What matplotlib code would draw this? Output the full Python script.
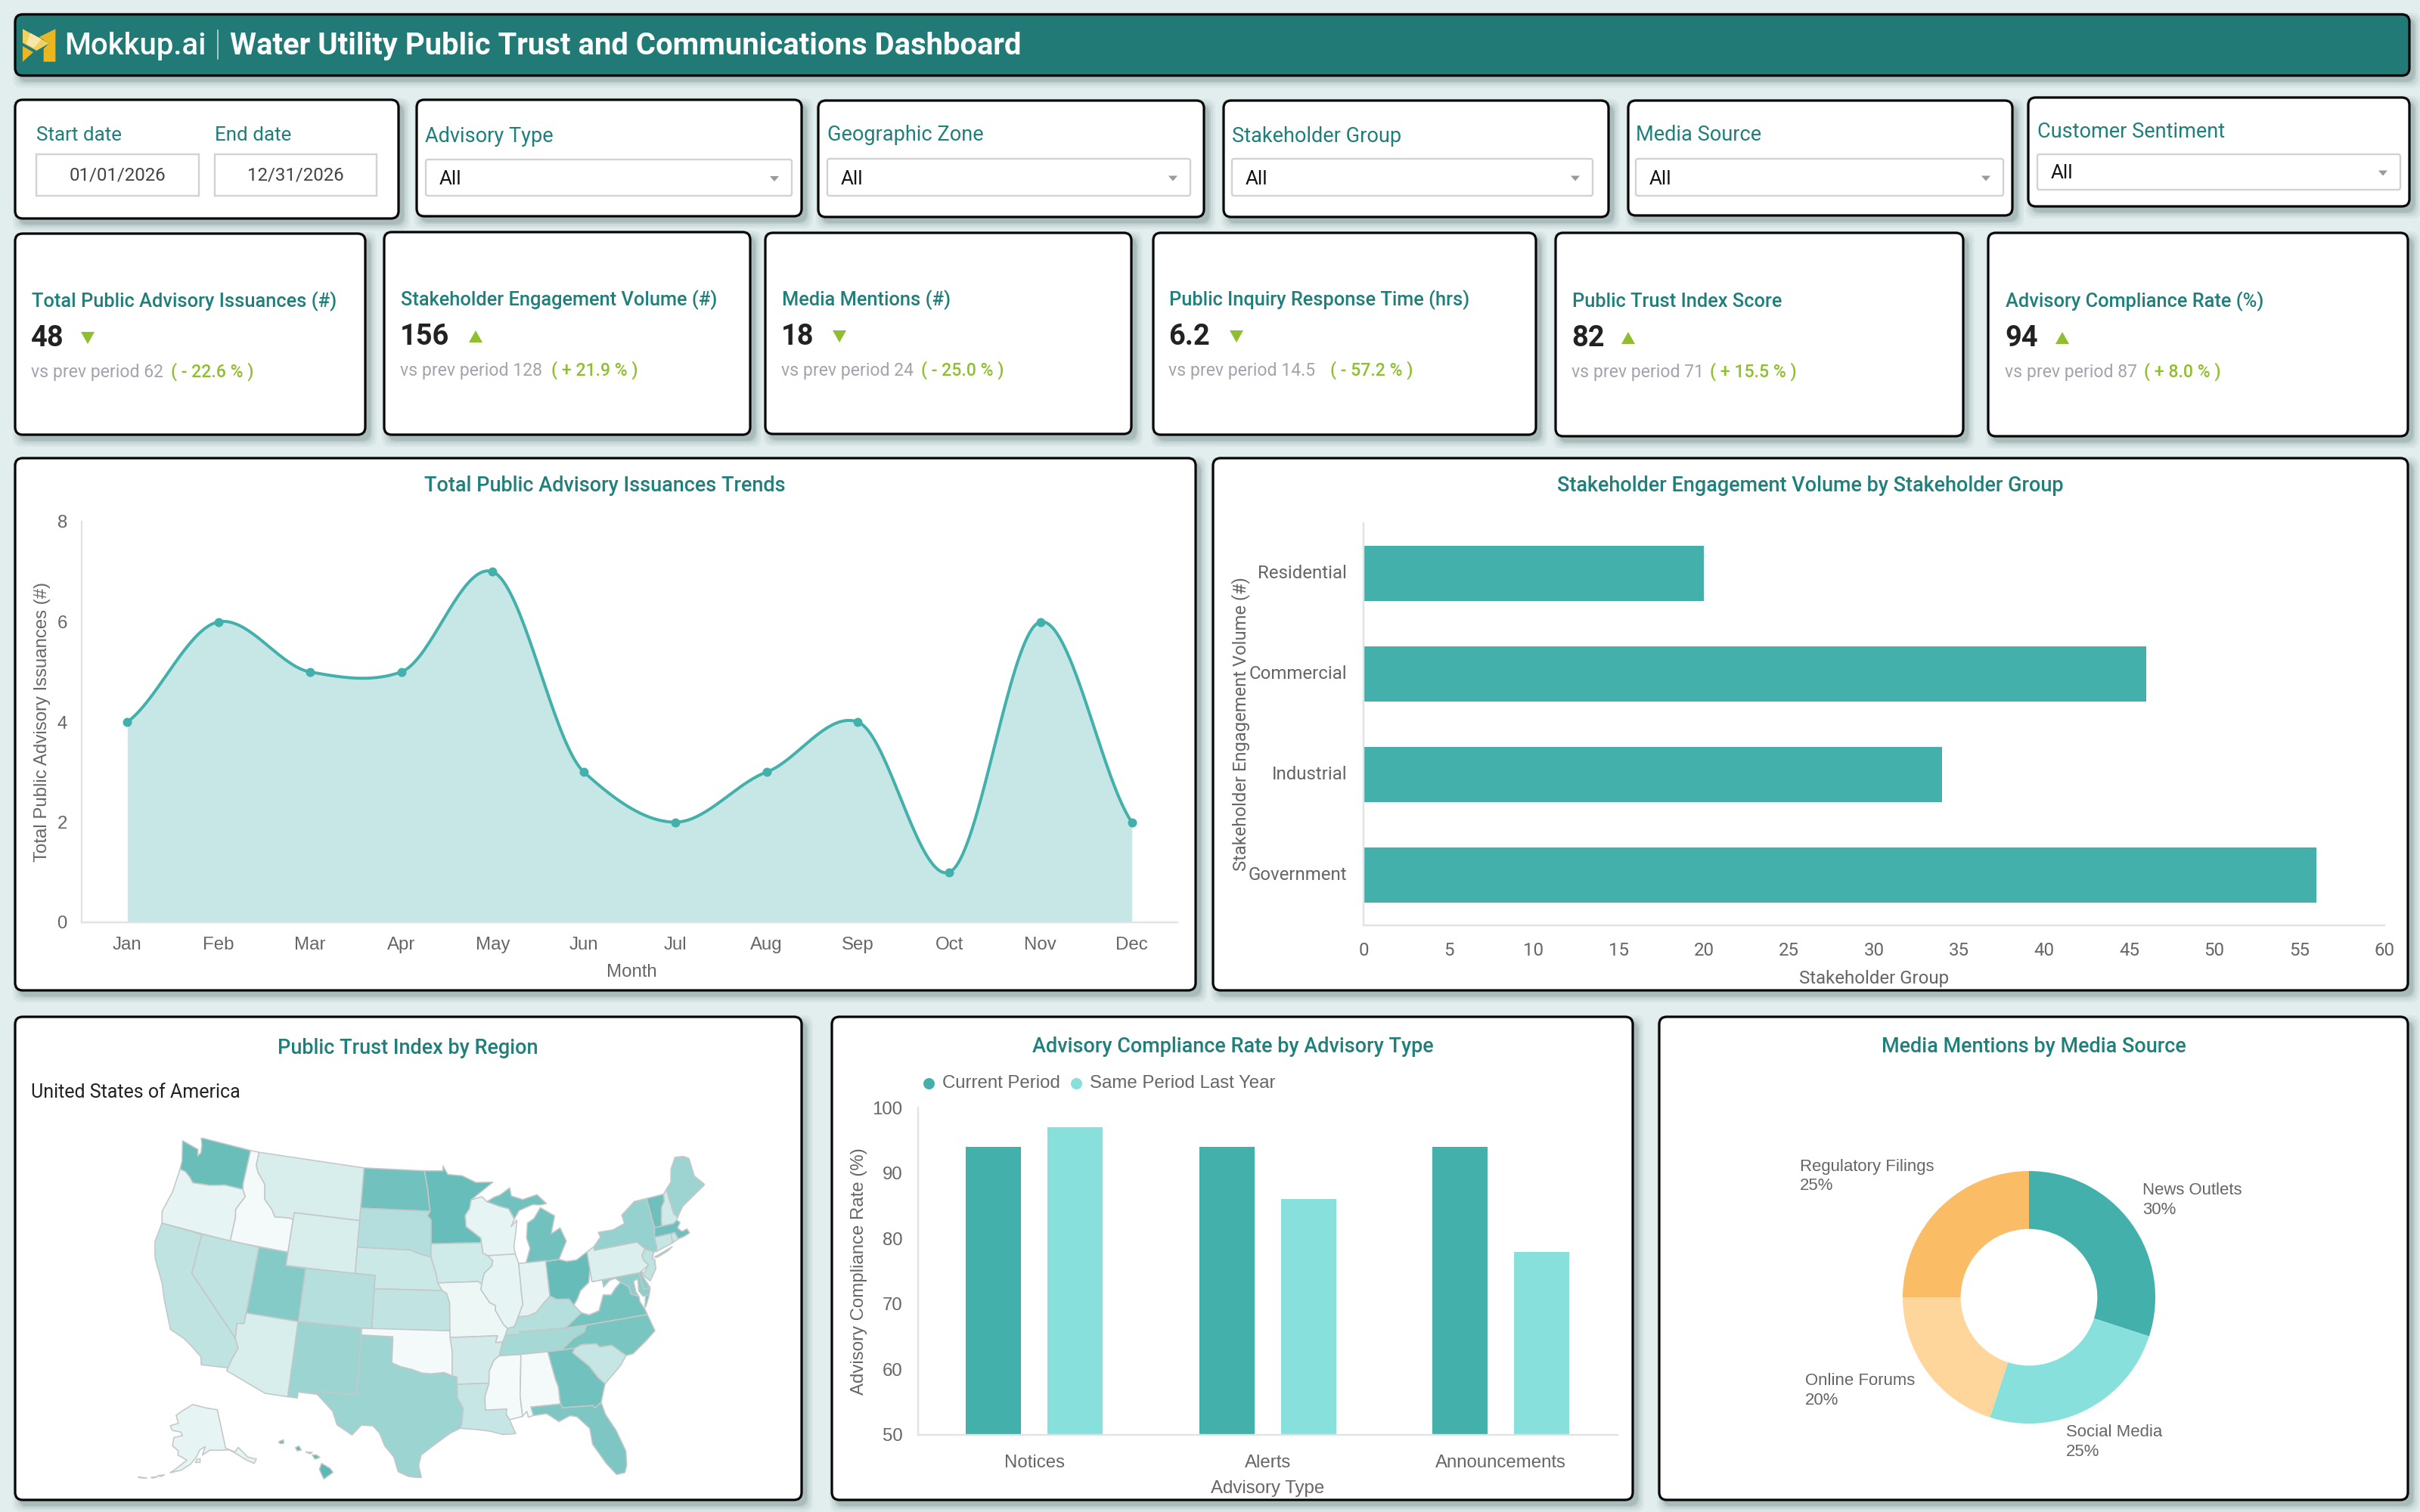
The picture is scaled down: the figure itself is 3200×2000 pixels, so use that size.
import numpy as np
import matplotlib
matplotlib.use("Agg")
import matplotlib.pyplot as plt
from matplotlib.colors import LinearSegmentedColormap
from matplotlib.patches import FancyBboxPatch, Polygon, Rectangle

W, H = 3200, 2000
TEAL = "#44B0AB"
AQUA = "#88E0DC"
TITLE = "#1F7F7B"
HEADER = "#227A77"
GREY = "#666666"
GREEN = "#8FBF2F"

# Dashboard values
months = ["Jan", "Feb", "Mar", "Apr", "May", "Jun", "Jul", "Aug", "Sep", "Oct", "Nov", "Dec"]
issuances = [4, 6, 5, 5, 7, 3, 2, 3, 4, 1, 6, 2]

stakeholders = ["Residential", "Commercial", "Industrial", "Government"]
engagement = [20, 46, 34, 56]

advisory_types = ["Notices", "Alerts", "Announcements"]
compliance_current = [94, 94, 94]
compliance_last_year = [97, 86, 78]

media_sources = ["News Outlets", "Social Media", "Online Forums", "Regulatory Filings"]
media_share = [30, 25, 20, 25]
media_colors = [TEAL, AQUA, "#FED69C", "#FABD66"]

kpi_titles = ["Total Public Advisory Issuances (#)", "Stakeholder Engagement Volume (#)", "Media Mentions (#)",
              "Public Inquiry Response Time (hrs)", "Public Trust Index Score", "Advisory Compliance Rate (%)"]
kpi_values = ["48", "156", "18", "6.2", "82", "94"]
kpi_prev = ["62", "128", "24", "14.5", "71", "87"]
kpi_delta = ["( - 22.6 % )", "( + 21.9 % )", "( - 25.0 % )", "( - 57.2 % )", "( + 15.5 % )", "( + 8.0 % )"]
kpi_up = [False, True, False, False, True, True]

filter_labels = ["Advisory Type", "Geographic Zone", "Stakeholder Group", "Media Source", "Customer Sentiment"]

# Trust index per state, 0 to 1
trust_index = {
    "WA": .92, "OR": .15, "ID": .07, "MT": .24, "WY": .24, "ND": .87, "SD": .46, "NE": .33, "KS": .38, "MN": .93,
    "IA": .30, "MO": .12, "WI": .15, "IL": .15, "IN": .17, "MI": .87, "OH": .94, "KY": .45, "TN": .55, "AL": .07,
    "MS": .07, "AR": .28, "LA": .35, "OK": .07, "TX": .61, "NM": .61, "AZ": .24, "CO": .45, "UT": .75, "NV": .40,
    "CA": .40, "GA": .87, "FL": .80, "SC": .35, "NC": .82, "VA": .85, "WV": .00, "PA": .22, "NY": .65, "ME": .60,
    "VT": .88, "NH": .30, "MA": .88, "CT": .35, "RI": .35, "NJ": .40, "DE": .70, "MD": .70, "AK": .15, "HI": 1.0,
}

# Simplified state outlines, (lon, lat)
states = {
    "WA": [[(-124.7, 48.38), (-123.2, 48.15), (-122.8, 48.1), (-122.6, 47.6), (-122.35, 47.9), (-122.5, 48.5), (-122.8, 49), (-117.03, 49), (-117.03, 46.42), (-116.92, 46), (-118.98, 46), (-119.3, 45.93), (-120.5, 45.7), (-121.2, 45.65), (-122.3, 45.55), (-122.8, 45.9), (-123.4, 46.2), (-124.05, 46.27), (-124.1, 46.9)]],
    "OR": [[(-124.05, 46.27), (-123.4, 46.2), (-122.8, 45.9), (-122.3, 45.55), (-121.2, 45.65), (-120.5, 45.7), (-119.3, 45.93), (-118.98, 46), (-116.92, 46), (-116.5, 45.5), (-116.9, 44.9), (-117.2, 44.4), (-117.03, 43.8), (-117.03, 42), (-124.2, 42), (-124.55, 42.85), (-124.1, 44.5)]],
    "ID": [[(-117.03, 49), (-116.05, 49), (-116.05, 48), (-115.7, 47.5), (-114.7, 46.7), (-114.4, 45.6), (-113.45, 44.95), (-113, 44.45), (-111.5, 44.55), (-111.05, 44.48), (-111.05, 42), (-117.03, 42), (-117.03, 43.8), (-117.2, 44.4), (-116.9, 44.9), (-116.5, 45.5), (-116.92, 46), (-117.03, 46.42)]],
    "MT": [[(-116.05, 49), (-104.05, 49), (-104.05, 45), (-111.05, 45), (-111.05, 44.48), (-111.5, 44.55), (-113, 44.45), (-113.45, 44.95), (-114.4, 45.6), (-114.7, 46.7), (-115.7, 47.5), (-116.05, 48)]],
    "WY": [[(-111.05, 45), (-104.05, 45), (-104.05, 41), (-111.05, 41)]],
    "ND": [[(-104.05, 49), (-97.23, 49), (-96.85, 47.6), (-96.56, 45.94), (-104.05, 45.94)]],
    "SD": [[(-104.05, 45.94), (-96.56, 45.94), (-96.85, 45.6), (-96.45, 45.3), (-96.45, 43.5), (-96.45, 42.49), (-97.9, 42.8), (-98.5, 43), (-104.05, 43)]],
    "NE": [[(-104.05, 43), (-98.5, 43), (-97.9, 42.8), (-96.45, 42.49), (-96.1, 41.7), (-95.85, 41), (-95.31, 40), (-102.05, 40), (-102.05, 41), (-104.05, 41)]],
    "KS": [[(-102.05, 40), (-95.31, 40), (-94.9, 39.8), (-94.61, 39.1), (-94.62, 37), (-102.05, 37)]],
    "CO": [[(-109.05, 41), (-102.05, 41), (-102.05, 37), (-109.05, 37)]],
    "UT": [[(-114.05, 42), (-111.05, 42), (-111.05, 41), (-109.05, 41), (-109.05, 37), (-114.05, 37)]],
    "NV": [[(-120, 42), (-114.05, 42), (-114.05, 36.2), (-114.7, 36.1), (-114.6, 35), (-120, 39)]],
    "CA": [[(-124.2, 42), (-120, 42), (-120, 39), (-114.6, 35), (-114.15, 34.3), (-114.5, 33.5), (-114.72, 32.72), (-117.12, 32.53), (-117.3, 33.1), (-118.4, 33.75), (-119.2, 34.15), (-120.6, 34.55), (-121.9, 36.6), (-122.5, 37.7), (-123.8, 39.3), (-124.35, 40.4)]],
    "AZ": [[(-114.05, 37), (-109.05, 37), (-109.05, 31.33), (-111.07, 31.33), (-114.81, 32.5), (-114.72, 32.72), (-114.5, 33.5), (-114.15, 34.3), (-114.6, 35), (-114.7, 36.1), (-114.05, 36.2)]],
    "NM": [[(-109.05, 37), (-103, 37), (-103, 32), (-106.6, 32), (-106.5, 31.78), (-108.2, 31.78), (-108.2, 31.33), (-109.05, 31.33)]],
    "TX": [[(-103, 36.5), (-100, 36.5), (-100, 34.56), (-99.2, 34.3), (-98.1, 34.1), (-97.2, 33.85), (-96.4, 33.8), (-95.2, 33.9), (-94.48, 33.64), (-94.04, 33.55), (-94.04, 31.99), (-93.55, 31.2), (-93.7, 30.1), (-93.85, 29.7), (-94.7, 29.35), (-95.9, 28.6), (-97.2, 27.7), (-97.4, 26.9), (-97.15, 25.96), (-98.2, 26.05), (-99.1, 26.4), (-99.5, 27.5), (-100.3, 28.3), (-100.8, 29.25), (-101.4, 29.77), (-102.4, 29.77), (-103.15, 28.98), (-104.5, 29.65), (-105, 30.65), (-106.5, 31.78), (-106.6, 32), (-103, 32)]],
    "OK": [[(-103, 37), (-94.62, 37), (-94.43, 35.4), (-94.48, 33.64), (-95.2, 33.9), (-96.4, 33.8), (-97.2, 33.85), (-98.1, 34.1), (-99.2, 34.3), (-100, 34.56), (-100, 36.5), (-103, 36.5)]],
    "MN": [[(-97.23, 49), (-95.15, 49), (-95.15, 49.38), (-94.6, 48.72), (-93, 48.6), (-91.5, 48.05), (-89.6, 48), (-92.1, 46.75), (-92.3, 46.1), (-92.8, 45.6), (-92.75, 44.75), (-91.25, 43.85), (-91.22, 43.5), (-96.45, 43.5), (-96.45, 45.3), (-96.85, 45.6), (-96.56, 45.94), (-96.85, 47.6)]],
    "IA": [[(-96.45, 43.5), (-91.22, 43.5), (-91.1, 42.7), (-90.64, 42.51), (-90.15, 42.1), (-90.3, 41.7), (-91.1, 41.2), (-91.4, 40.38), (-91.73, 40.61), (-95.77, 40.58), (-95.85, 41), (-96.1, 41.7), (-96.45, 42.49)]],
    "MO": [[(-95.77, 40.58), (-91.73, 40.61), (-91.4, 40.38), (-91.5, 40), (-90.7, 39), (-90.15, 38.75), (-90.2, 38.4), (-89.5, 37.3), (-89.15, 37), (-89.4, 36.5), (-89.7, 36), (-90.37, 36), (-90.15, 36.5), (-94.62, 36.5), (-94.62, 37), (-94.61, 39.1), (-94.9, 39.8), (-95.31, 40)]],
    "AR": [[(-94.62, 36.5), (-90.15, 36.5), (-90.37, 36), (-89.7, 36), (-90.1, 35), (-90.6, 34.7), (-91.1, 33.9), (-91.17, 33), (-94.04, 33), (-94.04, 33.55), (-94.48, 33.64), (-94.43, 35.4)]],
    "LA": [[(-94.04, 33), (-91.17, 33), (-91.6, 31.99), (-91.6, 31), (-89.73, 31), (-89.8, 30.6), (-89.55, 30.18), (-89.4, 29.8), (-89.1, 29.1), (-90.2, 29.1), (-91.3, 29.4), (-92.3, 29.55), (-93.85, 29.7), (-93.7, 30.1), (-93.55, 31.2), (-94.04, 31.99)]],
    "MS": [[(-90.1, 35), (-88.2, 35), (-88.1, 34.9), (-88.47, 31.9), (-88.4, 30.35), (-89.55, 30.18), (-89.8, 30.6), (-89.73, 31), (-91.6, 31), (-91.6, 31.99), (-91.17, 33), (-91.1, 33.9), (-90.6, 34.7)]],
    "AL": [[(-88.2, 35), (-85.6, 35), (-85.18, 32.87), (-85, 32.3), (-85, 31), (-87.6, 31), (-87.45, 30.35), (-87.9, 30.25), (-88, 30.7), (-88.4, 30.35), (-88.47, 31.9), (-88.1, 34.9)]],
    "TN": [[(-90.1, 35), (-89.7, 36), (-89.4, 36.5), (-88.05, 36.5), (-88.05, 36.68), (-83.68, 36.6), (-81.68, 36.59), (-82, 36.1), (-83.1, 35.75), (-84.3, 35), (-85.6, 35), (-88.2, 35)]],
    "KY": [[(-89.4, 36.5), (-89.15, 37), (-88.5, 37.1), (-88.05, 37.8), (-87.1, 37.8), (-86.3, 38), (-85.4, 38.7), (-84.8, 39.1), (-84.2, 38.8), (-83, 38.7), (-82.6, 38.2), (-82, 37.55), (-83.68, 36.6), (-88.05, 36.68), (-88.05, 36.5)]],
    "IL": [[(-91.5, 40), (-91.4, 40.38), (-91.1, 41.2), (-90.3, 41.7), (-90.15, 42.1), (-90.64, 42.51), (-87.8, 42.49), (-87.55, 41.75), (-87.53, 39.35), (-87.5, 38.7), (-88.05, 37.8), (-88.5, 37.1), (-89.15, 37), (-89.5, 37.3), (-90.2, 38.4), (-90.15, 38.75), (-90.7, 39)]],
    "IN": [[(-87.55, 41.75), (-87.2, 41.75), (-86.8, 41.76), (-84.8, 41.76), (-84.8, 39.1), (-85.4, 38.7), (-86.3, 38), (-87.1, 37.8), (-88.05, 37.8), (-87.5, 38.7), (-87.53, 39.35)]],
    "OH": [[(-84.8, 41.7), (-83.45, 41.73), (-82.7, 41.5), (-81.7, 41.5), (-80.52, 41.98), (-80.52, 40.64), (-80.85, 39.7), (-81.75, 39.2), (-82.2, 38.6), (-82.6, 38.2), (-83, 38.7), (-84.2, 38.8), (-84.8, 39.1)]],
    "WV": [[(-82.6, 38.2), (-82.2, 38.6), (-81.75, 39.2), (-80.85, 39.7), (-80.52, 40.64), (-80.52, 39.72), (-79.48, 39.72), (-79.48, 39.2), (-78.8, 39.6), (-78.2, 39.68), (-77.75, 39.3), (-78.35, 38.95), (-78.9, 38.5), (-79.65, 38.6), (-80.3, 37.5), (-81.3, 37.3), (-82, 37.55)]],
    "VA": [[(-83.68, 36.6), (-81.68, 36.59), (-75.87, 36.55), (-76, 37), (-76.3, 37.6), (-76.3, 38), (-77, 38.3), (-77.05, 38.85), (-77.75, 39.3), (-78.35, 38.95), (-78.9, 38.5), (-79.65, 38.6), (-80.3, 37.5), (-81.3, 37.3), (-82, 37.55)],
           [(-75.95, 37.15), (-75.65, 37.95), (-75.3, 37.95), (-75.85, 37.15)]],
    "MD": [[(-79.48, 39.72), (-75.79, 39.72), (-75.7, 38.46), (-75.05, 38.45), (-75.3, 37.95), (-75.9, 37.95), (-76.2, 38.4), (-76.05, 39.3), (-76.5, 39.2), (-76.5, 38.4), (-76.3, 38), (-77, 38.3), (-77.05, 38.85), (-77.75, 39.3), (-78.2, 39.68), (-78.8, 39.6), (-79.48, 39.2)]],
    "DE": [[(-75.79, 39.72), (-75.45, 39.82), (-75.55, 39.45), (-75.05, 38.45), (-75.7, 38.46)]],
    "PA": [[(-80.52, 41.98), (-79.76, 42.27), (-79.76, 42), (-75.35, 42), (-74.7, 41.36), (-75.15, 40.95), (-75.1, 40.55), (-74.72, 40.15), (-75.45, 39.82), (-75.79, 39.72), (-80.52, 39.72)]],
    "NJ": [[(-74.7, 41.36), (-73.9, 41), (-74.25, 40.5), (-74, 40.45), (-74.1, 39.75), (-74.9, 38.95), (-75.5, 39.5), (-74.72, 40.15), (-75.1, 40.55), (-75.15, 40.95)]],
    "NY": [[(-79.76, 42.27), (-79.76, 42), (-75.35, 42), (-74.7, 41.36), (-73.9, 41), (-73.65, 40.98), (-73.5, 41.3), (-73.5, 42.05), (-73.27, 42.75), (-73.35, 45.01), (-74.7, 45), (-76.3, 44.2), (-76.2, 43.55), (-77.5, 43.25), (-79.05, 43.27), (-78.9, 42.9)],
           [(-74, 40.6), (-72, 41.05), (-72.6, 40.8), (-73.7, 40.55)]],
    "CT": [[(-73.5, 42.05), (-71.8, 42.02), (-71.85, 41.32), (-73.65, 40.98), (-73.5, 41.3)]],
    "RI": [[(-71.8, 42.02), (-71.38, 42.02), (-71.2, 41.5), (-71.85, 41.32)]],
    "MA": [[(-73.5, 42.05), (-73.27, 42.75), (-72.46, 42.73), (-71.3, 42.7), (-70.85, 42.88), (-70.6, 42.65), (-71, 42.3), (-70.65, 41.95), (-70.1, 42.05), (-69.95, 41.7), (-70.65, 41.55), (-71.2, 41.5), (-71.38, 42.02), (-71.8, 42.02)]],
    "VT": [[(-73.35, 45.01), (-71.5, 45.01), (-71.6, 44.5), (-72.05, 44.1), (-72.45, 43), (-72.46, 42.73), (-73.27, 42.75)]],
    "NH": [[(-71.5, 45.01), (-71.08, 45.3), (-70.98, 43.4), (-70.7, 43.07), (-70.85, 42.88), (-71.3, 42.7), (-72.46, 42.73), (-72.45, 43), (-72.05, 44.1), (-71.6, 44.5)]],
    "ME": [[(-71.08, 45.3), (-70.4, 45.75), (-70, 46.7), (-69.23, 47.46), (-68.3, 47.35), (-67.8, 47.07), (-67.8, 45.7), (-67, 44.85), (-68.5, 44.3), (-69.9, 43.75), (-70.7, 43.07), (-70.98, 43.4)]],
    "MI": [[(-86.8, 41.76), (-84.8, 41.76), (-84.8, 41.7), (-83.45, 41.73), (-83.1, 42.2), (-82.45, 43), (-82.9, 44.05), (-83.9, 43.7), (-83.3, 45), (-84.7, 45.75), (-85.5, 45), (-86.25, 44.7), (-86.5, 43.6), (-86.25, 42.8)],
           [(-90.4, 46.55), (-89.1, 46.15), (-88.1, 45.9), (-87.6, 45.1), (-87, 45.7), (-85.5, 46.05), (-84.7, 45.95), (-84, 46), (-84.9, 46.75), (-86.5, 46.5), (-87.7, 46.85), (-87.8, 47.47), (-88.9, 47), (-89.6, 46.85)]],
    "WI": [[(-92.1, 46.75), (-90.9, 46.95), (-90.4, 46.55), (-89.1, 46.15), (-88.1, 45.9), (-87.6, 45.1), (-88, 44.55), (-87.35, 45), (-87.5, 44.3), (-87.9, 43), (-87.8, 42.49), (-90.64, 42.51), (-91.1, 42.7), (-91.22, 43.5), (-91.25, 43.85), (-92.75, 44.75), (-92.8, 45.6), (-92.3, 46.1)]],
    "NC": [[(-84.3, 35), (-83.1, 35.75), (-82, 36.1), (-81.68, 36.59), (-75.87, 36.55), (-75.5, 35.25), (-76.5, 34.65), (-77.9, 33.9), (-78.55, 33.86), (-79.68, 34.8), (-80.8, 34.82), (-81.05, 35.1), (-82.4, 35.2), (-83.1, 35)]],
    "SC": [[(-83.1, 35), (-82.4, 35.2), (-81.05, 35.1), (-80.8, 34.82), (-79.68, 34.8), (-78.55, 33.86), (-79.2, 33.2), (-80.85, 32.05), (-81.4, 32.6), (-82, 33.5), (-83.35, 34.7)]],
    "GA": [[(-85.6, 35), (-84.3, 35), (-83.1, 35), (-83.35, 34.7), (-82, 33.5), (-81.4, 32.6), (-80.85, 32.05), (-81.45, 30.72), (-82.05, 30.36), (-82.2, 30.57), (-84.85, 30.7), (-85, 31), (-85, 32.3), (-85.18, 32.87)]],
    "FL": [[(-87.6, 31), (-85, 31), (-84.85, 30.7), (-82.2, 30.57), (-82.05, 30.36), (-81.45, 30.72), (-81.25, 29.8), (-80.55, 28.45), (-80.03, 26.8), (-80.15, 25.75), (-80.4, 25.2), (-81.1, 25.15), (-81.8, 26.1), (-82.7, 27.7), (-82.75, 28.9), (-83.7, 29.9), (-84.3, 30.05), (-85.3, 29.7), (-86.3, 30.4), (-87.45, 30.35)]],
}
alaska = [[(-141, 69.6), (-141, 60.3), (-137.5, 58.9), (-135.5, 59.8), (-133, 57), (-130, 55.9), (-131.5, 55.1), (-134, 56.5), (-136.5, 58.1), (-139.5, 59.7), (-144, 60), (-148, 60.3), (-151.5, 59.2), (-150, 61.2), (-152.5, 60.5), (-154, 58.8), (-156.5, 57), (-160, 55.5), (-164, 54.6), (-161.5, 56), (-158, 58), (-162, 59), (-162, 60), (-165, 61), (-165, 63), (-161, 63.7), (-162, 64.5), (-166.5, 64.6), (-168, 65.6), (-164, 66.5), (-166, 68.3), (-163, 69.5), (-156.5, 71.3), (-148, 70.4)],
          [(-154.5, 57.5), (-152.5, 57.5), (-152.5, 58.4), (-153.8, 58.2)],
          [(-167, 53.4), (-166, 53.9), (-168.5, 53.4)], [(-170.5, 52.7), (-168.5, 53.1), (-170, 52.6)], [(-175, 52), (-172, 52.3), (-174.5, 51.9)]]
hawaii = [[(-159.8, 22.05), (-159.35, 22.2), (-159.35, 21.9), (-159.7, 21.9)], [(-158.25, 21.55), (-157.95, 21.7), (-157.7, 21.35), (-158.1, 21.3)],
          [(-157.3, 21.2), (-156.7, 21.17), (-156.9, 21.05)], [(-156.7, 20.95), (-156.3, 20.95), (-156, 20.75), (-156.45, 20.6)],
          [(-156.05, 19.75), (-155.85, 20.25), (-155.1, 19.85), (-154.8, 19.5), (-155.65, 18.95)]]


def albers(lon, lat, lon0=-96, lat0=37.5, lat1=29.5, lat2=45.5):
    lon, lat, lat0, lat1, lat2 = np.radians(lon), np.radians(lat), np.radians(lat0), np.radians(lat1), np.radians(lat2)
    n = (np.sin(lat1) + np.sin(lat2)) / 2
    c = np.cos(lat1) ** 2 + 2 * n * np.sin(lat1)
    rho = np.sqrt(c - 2 * n * np.sin(lat)) / n
    rho0 = np.sqrt(c - 2 * n * np.sin(lat0)) / n
    theta = n * (lon - np.radians(lon0))
    return rho * np.sin(theta), rho0 - rho * np.cos(theta)


def px_axes(x0, y0, x1, y1):
    return fig.add_axes([x0 / W, 1 - y1 / H, (x1 - x0) / W, (y1 - y0) / H])


def pts(px):
    return px * 72 / 200


def put(x, y, text, size, color="#333333", weight="normal", ha="left", va="center", family="Roboto", rotation=0):
    if rotation == 0:
        y += 3 if family == "Roboto" else 1
    page.text(x, y, text, fontsize=pts(size), color=color, fontweight=weight, ha=ha, va=va, family=family, rotation=rotation, rotation_mode="anchor", zorder=5)


def card(x0, y0, x1, y1, face="white"):
    # soft shadow, then the panel with its dark border
    for grow, alpha in [(9, .05), (6, .07), (3, .10), (1, .12)]:
        page.add_patch(FancyBboxPatch((x0 + 6 - grow, y0 + 7 - grow), x1 - x0 + 2 * grow, y1 - y0 + 2 * grow,
                                      boxstyle="round,pad=0,rounding_size=12", fc="#2F4A4A", ec="none", alpha=alpha, zorder=1))
    page.add_patch(FancyBboxPatch((x0, y0), x1 - x0, y1 - y0, boxstyle="round,pad=0,rounding_size=10",
                                  fc=face, ec="#050505", lw=pts(3.2), zorder=2))


def select_box(x0, y0, x1, y1, value="All"):
    page.add_patch(FancyBboxPatch((x0, y0), x1 - x0, y1 - y0, boxstyle="round,pad=0,rounding_size=3", fc="white", ec="#D2D2D2", lw=pts(2.4), zorder=3))
    put(x0 + 18, (y0 + y1) / 2 - 1, value, 26, "#111111")
    page.add_patch(Polygon([(x1 - 29, (y0 + y1) / 2 - 2), (x1 - 17, (y0 + y1) / 2 - 2), (x1 - 23, (y0 + y1) / 2 + 5)], fc="#9A9A9A", zorder=4))


def style_axis(ax):
    ax.set_facecolor("none")
    for side in ["top", "right"]:
        ax.spines[side].set_visible(False)
    for side in ["left", "bottom"]:
        ax.spines[side].set_color("#E2E2E2")
        ax.spines[side].set_linewidth(pts(2.4))
    ax.tick_params(length=0, colors=GREY)
    ax.set_axisbelow(True)


def smooth_curve(values, tension=0.33, steps=40):
    # Hermite spline through each monthly value, tangents from the neighbouring months
    y = np.asarray(values, dtype=float)
    tang = np.zeros_like(y)
    tang[1:-1] = tension * (y[2:] - y[:-2])
    tang[0] = 2 * tension * (y[1] - y[0])
    tang[-1] = 2 * tension * (y[-1] - y[-2])
    xs, ys = [], []
    for i in range(len(y) - 1):
        t = np.linspace(0, 1, steps, endpoint=False)
        ys.append((2 * t**3 - 3 * t**2 + 1) * y[i] + (t**3 - 2 * t**2 + t) * tang[i] + (-2 * t**3 + 3 * t**2) * y[i + 1] + (t**3 - t**2) * tang[i + 1])
        xs.append(i + t)
    return np.append(np.concatenate(xs), len(y) - 1), np.append(np.concatenate(ys), y[-1])


fig = plt.figure(figsize=(16, 10), dpi=200, facecolor="#E2EEED")
page = fig.add_axes([0, 0, 1, 1], zorder=0)
page.set_xlim(0, W)
page.set_ylim(H, 0)
page.axis("off")

# Header band with logo
card(20, 19, 3186, 100, HEADER)
lx = lambda v: 20 + v / 3
ly = lambda v: 25 + v / 3
for shape, col in [([(113, 170), (113, 118), (135, 97), (95, 72), (160, 40), (160, 170)], "#EBB720"),
                   ([(30, 108), (72, 132), (30, 170)], "#EBB720"),
                   ([(30, 40), (135, 97), (85, 126), (30, 95)], "#F2D060"),
                   ([(60, 56), (105, 80), (75, 115), (45, 100)], "#F8E7A6")]:
    page.add_patch(Polygon([(lx(a), ly(b)) for a, b in shape], fc=col, ec="none", zorder=4))
put(85, 58, "Mokkup.ai", 40, "white", "medium")
page.plot([288, 288], [40, 78], color="#CFE3E1", lw=pts(1.5), zorder=4)
put(304, 58, "Water Utility Public Trust and Communications Dashboard", 40, "white", "bold")

# Filter row
card(20, 132, 527, 289)
put(48, 176, "Start date", 26, TITLE)
put(284, 176, "End date", 26, TITLE)
for x0, x1, date in [(48, 263, "01/01/2026"), (284, 498, "12/31/2026")]:
    page.add_patch(Rectangle((x0, 204), x1 - x0, 55, fc="white", ec="#D2D2D2", lw=pts(2.4), zorder=3))
    put((x0 + x1) / 2, 229, date, 24, "#444444", ha="center")

filter_cards = [(551, 132, 1060, 286), (1082, 133, 1592, 287), (1618, 133, 2127, 287), (2153, 133, 2661, 285), (2682, 129, 3186, 273)]
filter_text = [(562, 178), (1094, 176), (1629, 178), (2163, 176), (2694, 171)]
filter_boxes = [(563, 211, 1047, 259), (1094, 210, 1574, 259), (1629, 210, 2106, 259), (2163, 210, 2649, 259), (2694, 204, 3174, 251)]
for box, pos, field, label in zip(filter_cards, filter_text, filter_boxes, filter_labels):
    card(*box)
    put(pos[0], pos[1], label, 27.2, TITLE)
    select_box(*field)

# KPI row
kpi_cards = [(20, 309, 483, 575), (508, 307, 992, 575), (1012, 308, 1496, 574), (1525, 308, 2031, 575), (2057, 308, 2596, 577), (2629, 308, 3184, 577)]
kpi_x = [42, 530, 1034, 1546, 2079, 2652]
kpi_y = [396, 394, 394, 394, 396, 396]
tri_x = [116, 629, 1110, 1635, 2153, 2727]
delta_x = [226, 729, 1218, 1759, 2261, 2835]
for i, box in enumerate(kpi_cards):
    card(*box)
    x, y = kpi_x[i], kpi_y[i]
    put(x, y, kpi_titles[i], 25.4, TITLE, "medium")
    put(x - 1, y + 49, kpi_values[i], 38, "#222222", "bold")
    tx, ty = tri_x[i], y + 49 + 2
    tri = [(tx - 9, ty + 8), (tx + 9, ty + 8), (tx, ty - 8)] if kpi_up[i] else [(tx - 9, ty - 8), (tx + 9, ty - 8), (tx, ty + 8)]
    page.add_patch(Polygon(tri, fc=GREEN, ec="none", zorder=4))
    put(x - 1, y + 93, "vs prev period " + kpi_prev[i], 23, "#A3A3AD")
    put(delta_x[i], y + 93, kpi_delta[i], 23, GREEN, "medium")

# Chart panels
card(20, 606, 1581, 1310)
card(1604, 606, 3184, 1310)
card(20, 1345, 1060, 1984)
card(1100, 1345, 2159, 1984)
card(2194, 1345, 3184, 1984)
put(800, 640, "Total Public Advisory Issuances Trends", 27, TITLE, "medium", ha="center")
put(2394, 640, "Stakeholder Engagement Volume by Stakeholder Group", 27, TITLE, "medium", ha="center")
put(539, 1383, "Public Trust Index by Region", 27, TITLE, "medium", ha="center")
put(1630, 1382, "Advisory Compliance Rate by Advisory Type", 27, TITLE, "medium", ha="center")
put(2689, 1382, "Media Mentions by Media Source", 27, TITLE, "medium", ha="center")

# Monthly trend area chart
ax = px_axes(108, 690, 1557, 1220)
style_axis(ax)
cx, cy = smooth_curve(issuances)
ax.fill_between(cx, 0, cy, color="#C6E7E5", lw=0)
ax.plot(cx, cy, color=TEAL, lw=pts(4))
ax.plot(range(len(months)), issuances, "o", color=TEAL, ms=pts(12), mew=0)
ax.set_xlim(-0.5, 11.5)
ax.set_ylim(0, 8)
ax.set_xticks(range(len(months)), months)
ax.set_yticks([0, 2, 4, 6, 8])
ax.tick_params(labelsize=pts(24), pad=pts(19))
for lab in ax.get_xticklabels() + ax.get_yticklabels():
    lab.set_family("Liberation Sans")
put(835, 1285, "Month", 24, GREY, ha="center", family="Liberation Sans")
put(56, 955, "Total Public Advisory Issuances (#)", 24, GREY, ha="center", family="Liberation Sans", rotation=90)

# Engagement by stakeholder group
ax = px_axes(1803, 692, 3153, 1224)
style_axis(ax)
ax.barh(range(len(stakeholders)), engagement, height=0.555, color=TEAL)
ax.set_xlim(0, 60)
ax.set_ylim(3.5, -0.5)
ax.set_yticks(range(len(stakeholders)), stakeholders)
ax.set_xticks(range(0, 61, 5))
ax.tick_params(labelsize=pts(24), pad=pts(22))
for lab in ax.get_xticklabels():
    lab.set_family("Roboto")
for lab in ax.get_yticklabels():
    lab.set_family("Roboto")
    lab.set_verticalalignment("center")
put(2478, 1292, "Stakeholder Group", 24, GREY, ha="center")
put(1641, 958, "Stakeholder Engagement Volume (#)", 23.8, GREY, ha="center", rotation=90)

# Trust index map
shade = LinearSegmentedColormap.from_list("trust", ["#FFFFFF", "#5CB8B4"])
put(41, 1442, "United States of America", 25, "#222222")


def draw_states(ax, shapes, value, **proj):
    for ring in shapes:
        lon, lat = np.array(ring).T
        x, y = albers(lon, lat, **proj)
        ax.add_patch(Polygon(np.c_[x, y], fc=shade(value), ec="#C4C8C8", lw=pts(1.6), joinstyle="round"))


ax = px_axes(204, 1505, 932, 1955)
ax.axis("off")
all_xy = [albers(*np.array(ring).T) for shapes in states.values() for ring in shapes]
xs = np.concatenate([a[0] for a in all_xy])
ys = np.concatenate([a[1] for a in all_xy])
ax.set_xlim(xs.min(), xs.max())
ax.set_ylim(ys.min(), ys.max())
for code, shapes in states.items():
    draw_states(ax, shapes, trust_index[code])

ax = px_axes(175, 1853, 347, 1960)
ax.axis("off")
draw_states(ax, alaska, trust_index["AK"], lon0=-154, lat0=63, lat1=55, lat2=65)
ax.autoscale_view()

ax = px_axes(365, 1902, 444, 1959)
ax.axis("off")
draw_states(ax, hawaii, trust_index["HI"], lon0=-157, lat0=20.5, lat1=8, lat2=18)
ax.autoscale_view()

# Compliance rate, this period against last year
ax = px_axes(1213.5, 1465, 2139, 1898)
style_axis(ax)
pos = np.arange(len(advisory_types))
ax.bar(pos - 0.175, compliance_current, width=0.237, color=TEAL)
ax.bar(pos + 0.175, compliance_last_year, width=0.237, color=AQUA)
ax.set_xlim(-0.5, 2.5)
ax.set_ylim(50, 100)
ax.set_xticks(pos, advisory_types)
ax.set_yticks(range(50, 101, 10))
ax.tick_params(labelsize=pts(24), pad=pts(20))
ax.tick_params(axis="x", pad=pts(26))
for lab in ax.get_xticklabels() + ax.get_yticklabels():
    lab.set_family("Liberation Sans")
page.plot([1228], [1433], "o", color=TEAL, ms=pts(15), mew=0, zorder=5)
page.plot([1423], [1433], "o", color=AQUA, ms=pts(15), mew=0, zorder=5)
put(1246, 1432, "Current Period", 24, GREY, family="Liberation Sans")
put(1441, 1432, "Same Period Last Year", 24, GREY, family="Liberation Sans")
put(1676, 1968, "Advisory Type", 24, GREY, ha="center", family="Liberation Sans")
put(1136, 1682, "Advisory Compliance Rate (%)", 24, GREY, ha="center", family="Liberation Sans", rotation=90)

# Media source donut
ax = px_axes(2516, 1549, 2850, 1883)
ax.pie(media_share, colors=media_colors, startangle=90, counterclock=False, radius=1, wedgeprops={"width": 0.459, "lw": 0})
ax.set_xlim(-1, 1)
ax.set_ylim(-1, 1)
donut_label_pos = [(2833, 1574), (2732, 1893), (2387, 1825), (2380, 1542)]
for (x, y), source, share in zip(donut_label_pos, media_sources, media_share):
    put(x, y, source, 22.2, GREY, family="Liberation Sans")
    put(x, y + 26, f"{share}%", 22.2, GREY, family="Liberation Sans")

fig.savefig("out.png", dpi=200, facecolor=fig.get_facecolor())
